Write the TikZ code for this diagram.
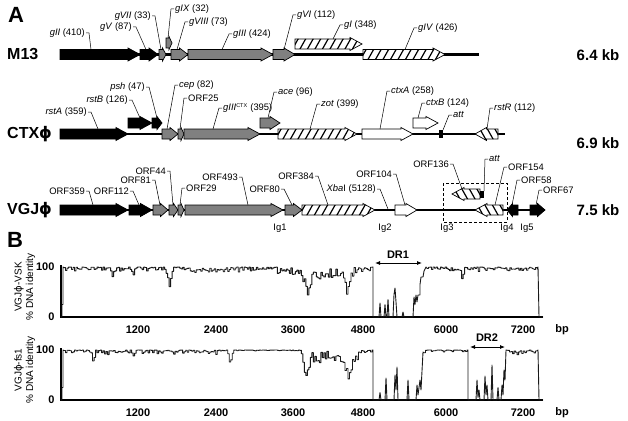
\documentclass[tikz,border=0pt]{standalone}
\usepackage{fontspec}
\setmainfont{Liberation Sans}
\newfontfamily\phifont{DejaVu Sans}
\usetikzlibrary{calc,arrows.meta}
\definecolor{GeneGray}{RGB}{128,128,128}
\definecolor{TraceGray}{RGB}{25,25,25}
\newcommand{\phg}{{\phifont ϕ}}
\tikzset{
  genebox/.style={draw=black,line width=0.7pt,line join=miter},
  blackgene/.style={genebox,fill=black},
  graygene/.style={genebox,fill=GeneGray},
  whitegene/.style={genebox,fill=white},
  hatchgene/.style={genebox,fill=white,path picture={%
    \foreach \k in {0,...,24}
      \draw[line width=1.2pt] ($(path picture bounding box.south west)+(\k*7.5pt-12pt,-2pt)$) -- ++(9pt,16pt);}},
  hatchback/.style={genebox,fill=white,path picture={%
    \foreach \k in {0,...,24}
      \draw[line width=1.2pt] ($(path picture bounding box.south east)+(-\k*7.5pt+12pt,-2pt)$) -- ++(-9pt,16pt);}},
  dnaline/.style={line width=2.6pt},
  leader/.style={line width=0.5pt},
  genelabel/.style={font=\fontsize{9.4}{11}\selectfont,inner sep=1pt},
  rowlabel/.style={font=\fontsize{16}{18}\selectfont\bfseries,anchor=west,inner sep=0pt},
  sizelabel/.style={font=\fontsize{15}{18}\selectfont\bfseries},
  panel/.style={font=\fontsize{22}{24}\selectfont\bfseries},
  axisline/.style={line width=1.2pt},
  ticklabel/.style={font=\fontsize{11}{12}\selectfont\bfseries},
  ylabel/.style={font=\fontsize{10}{11.5}\selectfont,align=center,rotate=90},
  trace/.style={line width=0.9pt,TraceGray,line join=round},
  drarrow/.style={line width=0.8pt,{Latex[length=5pt,width=4pt]}-{Latex[length=5pt,width=4pt]}}
}
% gene arrow: [style]{start}{tip}{y}
\newcommand{\gene}[4][graygene]{%
  \pgfmathsetmacro\gdir{sign(#3-#2)}%
  \pgfmathsetmacro\ghead{\gdir*min(12,0.5*abs(#3-#2))}%
  \path[#1] (#2,#4-5) -- (#3-\ghead,#4-5) -- (#3-\ghead,#4-6.5) -- (#3,#4)
    -- (#3-\ghead,#4+6.5) -- (#3-\ghead,#4+5) -- (#2,#4+5) -- cycle;}
% labels with leader on the right / left side
\newcommand{\tagR}[4]{%
  \node[genelabel,anchor=east] (#1) at (#2) {#3};
  \coordinate (#1-to) at (#4);
  \draw[leader] (#1.east) -- ++(3,0) -- (#1-to);}
\newcommand{\tagL}[4]{%
  \node[genelabel,anchor=west] (#1) at (#2) {#3};
  \coordinate (#1-to) at (#4);
  \draw[leader] (#1.west) -- ++(-3,0) -- (#1-to);}

\begin{document}
\begin{tikzpicture}[x=1pt,y=-1pt]
  \useasboundingbox (0,0) rectangle (628,420);
  \node[panel] (pA) at (16,15) {A};
  \node[panel] (pB) at (15,240) {B};

  % M13
  \node[rowlabel] (rM13) at (7,54) {M13};
  \node[sizelabel] (kM13) at (598,55) {6.4 kb};
  \draw[dnaline] (60,54.5) -- (479,54.5);
  \gene[blackgene]{60}{140}{54.5}
  \gene[blackgene]{140}{158}{54.5}
  \gene{159}{166}{54.5}
  \gene{166}{172}{43}
  \gene{171}{188}{54.5}
  \gene{188}{273}{54.5}
  \gene{273}{295}{54.5}
  \gene[hatchgene]{295}{362}{44}
  \gene[hatchgene]{363}{445}{54.5}
  \tagR{lgII}{86,33}{\textit{gII} (410)}{91,49.5}
  \tagR{lgV}{133,27}{\textit{gV} (87)}{146,49.5}
  \tagR{lgVII}{152,16}{\textit{gVII} (33)}{161,49.5}
  \tagL{lgIX}{174,9}{\textit{gIX} (32)}{168,38}
  \tagL{lgVIII}{188,22}{\textit{gVIII} (73)}{177,49.5}
  \tagL{lgIII}{232,34}{\textit{gIII} (424)}{222,49.5}
  \tagL{lgVI}{296,15}{\textit{gVI} (112)}{284,49.5}
  \tagL{lgI}{343,25}{\textit{gI} (348)}{333,39}
  \tagL{lgIV}{417,28}{\textit{gIV} (426)}{405,49.5}

  % CTX phi
  \node[rowlabel] (rCTX) at (7,134) {CTX\phg};
  \node[sizelabel] (kCTX) at (598,143) {6.9 kb};
  \draw[dnaline] (60,134) -- (505,134);
  \gene[blackgene]{60}{128}{134}
  \gene[blackgene]{128}{152}{123}
  \gene[blackgene]{152}{162}{123}
  \gene{162}{178}{134}
  \gene{178}{184}{134}
  \gene{184}{260}{134}
  \gene{260}{280}{123}
  \gene[hatchgene]{278}{357}{134}
  \gene[whitegene]{362}{413}{134}
  \gene[whitegene]{413}{438}{123}
  \fill (439,130) rectangle (443,138);
  \gene[hatchback]{498}{475}{134}
  \tagR{lrstA}{88,112}{\textit{rstA} (359)}{98,129}
  \tagR{lrstB}{129,100}{\textit{rstB} (126)}{140,118}
  \tagR{lpsh}{146,87}{\textit{psh} (47)}{157,118}
  \tagL{lcep}{178,85}{\textit{cep} (82)}{167,129}
  \tagL{lorfA}{187,98}{ORF25}{180,129}
  \tagL{lgIIIc}{222,108}{\textit{gIII}\textsuperscript{\fontsize{5.5}{5}\selectfont CTX} (395)}{213,129}
  \tagL{lace}{277,92}{\textit{ace} (96)}{268,118}
  \tagL{lzot}{320,104}{\textit{zot} (399)}{310,129}
  \tagL{lctxA}{390,91}{\textit{ctxA} (258)}{380,129}
  \tagL{lctxB}{425,103}{\textit{ctxB} (124)}{418,118}
  \tagL{lattC}{452,115}{\textit{att}}{443,130}
  \tagL{lrstR}{493,108}{\textit{rstR} (112)}{487,129}

  % VGJ phi
  \node[rowlabel] (rVGJ) at (7,210) {VGJ\phg};
  \node[sizelabel] (kVGJ) at (598,210) {7.5 kb};
  \draw[dnaline] (60,210) -- (545,210);
  \gene[blackgene]{60}{128}{210}
  \gene[blackgene]{129}{152}{210}
  \gene{153}{168}{210}
  \gene{169}{178}{210}
  \gene{178}{184}{210}
  \gene{185}{283}{210}
  \gene{285}{302}{210}
  \gene[hatchgene]{302}{375}{210}
  \gene[whitegene]{395}{417}{210}
  \gene[hatchback]{480}{452}{194}
  \fill (480,191) rectangle (484,198);
  \gene[hatchback]{503}{475}{210}
  \gene[blackgene]{518}{507}{210}
  \gene[blackgene]{530}{545}{210}
  \draw[leader,dash pattern=on 3pt off 2pt] (443,183) rectangle (507,222);
  \tagR{lo359}{86,191}{ORF359}{93,205}
  \tagR{lo112}{130,191}{ORF112}{139,205}
  \tagR{lo81}{152,180}{ORF81}{160,205}
  \tagR{lo44}{167,171}{ORF44}{173,205}
  \tagL{lo29}{185,188}{ORF29}{180,205}
  \tagR{lo493}{239,177}{ORF493}{248,205}
  \tagR{lo80}{281,189}{ORF80}{292,205}
  \tagR{lo384}{315,176}{ORF384}{328,205}
  \tagR{lxba}{377,189}{\textit{Xba}I (5128)}{388,209}
  \tagR{lo104}{393,174}{ORF104}{405,205}
  \tagR{lo136}{450,164}{ORF136}{462,189}
  \tagL{lattV}{488,159}{\textit{att}}{484,191}
  \tagL{lo154}{507,167}{ORF154}{495,205}
  \tagL{lo58}{520,180}{ORF58}{512,205}
  \tagL{lo67}{542,190}{ORF67}{536,205}
  \foreach \n/\xp in {1/280,2/385,3/447,4/507,5/527}
    \node[genelabel] (ig\n) at (\xp,228) {Ig\n};

  % identity plots
  \pgfmathsetseed{11}
  \foreach \row/\yb/\name in {1/317/VSK,2/400/fs1}{
    \draw[axisline] (61,\yb-52) -- (61,\yb) -- (543,\yb);
    \node[ticklabel,anchor=east] (hi\row) at (58,\yb-50) {100};
    \node[ticklabel,anchor=east] (lo\row) at (58,\yb) {0};
    \foreach \v/\xp in {1200/138,2400/216,3600/293,4800/363,6000/446,7200/523}
      \node[ticklabel] (t\row-\v) at (\xp,\yb+13) {\v};
    \node[ticklabel] (bp\row) at (562,\yb+13) {bp};
    \node[ylabel] (yl\row) at (24.5,\yb-30) {VGJ\phg-\name\\\% DNA identity};
  }
  \begin{scope}[shift={(0,317)},y=0.5pt]
    \draw[trace] (61,0) -- (62,0) -- (62,25) -- (63,25) -- (63,100)
      -- plot[const plot,domain=64:372,samples=206] (\x,{100-12*rnd*rnd-18*max(0,1-abs(\x-112)/2)-16*max(0,1-abs(\x-133)/2)-30*max(0,1-abs(\x-169)/4)-(\x>190)*(\x<228)*8*rnd-(\x>276)*(\x<300)*8*rnd-(\x>300)*(\x<358)*20*rnd-40*max(0,1-abs(\x-307)/5)-42*max(0,1-abs(\x-347)/5)})
      -- (373,100) -- (373,0) -- (379,0) -- (380,28) -- (381,0) -- (384,0) -- (385,25) -- (386,0)
      -- (387,0) -- (388,35) -- (389,0) -- (393,0) -- (394,45) -- (395,58) -- (396,30) -- (397,0)
      -- (402,0) -- (403,10) -- (404,0) -- (413,0) -- (414,40) -- (415,25) -- (416,44) -- (417,30)
      -- (418,44) -- (420,44) -- (420,65) -- (421,80) -- (423,80) -- (424,92) -- (426,100)
      -- plot[const plot,domain=427:537,samples=74] (\x,{100-12*rnd*rnd-25*max(0,1-abs(\x-462)/2.5)})
      -- (538,100) -- (539,0) -- (543,0);
  \end{scope}
  \begin{scope}[shift={(0,400)},y=0.5pt]
    \draw[trace] (61,0) -- (62,0) -- (62,25) -- (63,25) -- (63,100)
      -- plot[const plot,domain=64:372,samples=206] (\x,{100-(1-0.8*(\x>232)*(\x<302))*11*rnd*rnd-22*max(0,1-abs(\x-93)/2)-12*max(0,1-abs(\x-133)/2)-26*max(0,1-abs(\x-230)/3)-(\x>300)*(\x<358)*22*rnd-38*max(0,1-abs(\x-306)/5)-45*max(0,1-abs(\x-348)/5)})
      -- (373,100) -- (373,0) -- (379,0) -- (380,15) -- (381,0) -- (385,0) -- (386,44) -- (387,0)
      -- (394,0) -- (395,50) -- (396,20) -- (397,66) -- (398,0) -- (407,0) -- (408,40) -- (409,0)
      -- (416,0) -- (417,30) -- (418,10) -- (420,40) -- (421,20) -- (423,96)
      -- plot[const plot,domain=424:467,samples=30] (\x,{100-7*rnd*rnd})
      -- (468,100) -- (468,0) -- (476,0) -- (477,40) -- (478,5) -- (479,20) -- (480,0) -- (484,0)
      -- (485,48) -- (486,10) -- (487,30) -- (488,0) -- (491,0) -- (492,70) -- (493,0) -- (497,0)
      -- (498,25) -- (499,0) -- (501,0) -- (502,30) -- (503,10) -- (504,60) -- (505,40) -- (506,100)
      -- plot[const plot,domain=508:537,samples=20] (\x,{100-8*rnd*rnd-8*max(0,1-abs(\x-517)/3)})
      -- (538,100) -- (539,0) -- (543,0);
  \end{scope}
  \node[ticklabel] (dr1) at (398,255) {DR1};
  \coordinate (dr1a) at (375,263);
  \coordinate (dr1b) at (422,263);
  \draw[drarrow] (dr1a) -- (dr1b);
  \node[ticklabel] (dr2) at (487,338) {DR2};
  \coordinate (dr2a) at (470,347);
  \coordinate (dr2b) at (505,347);
  \draw[drarrow] (dr2a) -- (dr2b);
\end{tikzpicture}
\end{document}
